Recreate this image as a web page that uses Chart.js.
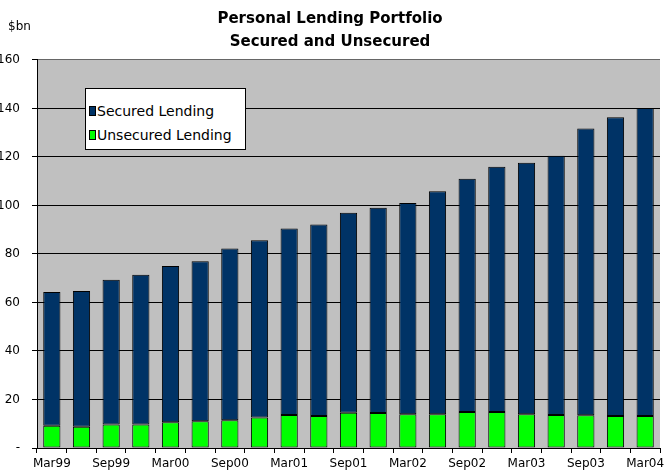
<!DOCTYPE html>
<html>
<head>
<meta charset="utf-8">
<script src="https://cdn.jsdelivr.net/npm/chart.js@4.4.0/dist/chart.umd.min.js"></script>
<style>
  html, body { margin: 0; padding: 0; background: #fff; }
  #wrap { position: relative; width: 669px; height: 473px; }
  #legend {
    position: absolute; left: 85px; top: 88px; width: 161px; height: 62px;
    background: #fff; border: 1px solid #000; box-sizing: border-box;
    font-family: "DejaVu Sans", Verdana, sans-serif; font-size: 14px; color: #000;
  }
  #legend div { position: absolute; left: 3px; white-space: nowrap; }
  #legend span { display: inline-block; width: 5px; height: 8px; border: 1px solid #000; margin-right: 1px; }
</style>
</head>
<body>
<div id="wrap">
  <canvas id="lendingChart" width="669" height="473"></canvas>
  <div id="legend">
    <div style="top:14px"><span style="background:#003366"></span>Secured Lending</div>
    <div style="top:38px"><span style="background:#00FF00"></span>Unsecured Lending</div>
  </div>
</div>
<script>
// Quarterly data, $bn
const quarters = ['Mar99', 'Jun99', 'Sep99', 'Dec99', 'Mar00', 'Jun00', 'Sep00', 'Dec00',
    'Mar01', 'Jun01', 'Sep01', 'Dec01', 'Mar02', 'Jun02', 'Sep02', 'Dec02',
    'Mar03', 'Jun03', 'Sep03', 'Dec03', 'Mar04'];
const unsecured = [9.2, 8.8, 9.7, 9.7, 10.6, 11.0, 11.4, 12.6, 13.6, 13.2, 14.5,
    14.4, 13.9, 13.9, 14.8, 14.8, 13.9, 13.6, 13.5, 13.2, 13.2];
const secured = [55.1, 55.9, 59.7, 61.7, 64.4, 66.0, 70.8, 73.0, 76.9, 78.9, 82.5,
    84.6, 87.1, 92.0, 96.2, 101.2, 103.7, 106.9, 118.2, 123.2, 127.0];
const yTicks = [0, 20, 40, 60, 80, 100, 120, 140, 160];

const FONT = '"DejaVu Sans", Verdana, sans-serif';

// grey plot area + "$bn" label
const plotBg = {
    id: 'plotBg',
    beforeDraw(chart) {
        const a = chart.chartArea, ctx = chart.ctx;
        ctx.save();
        ctx.fillStyle = '#C0C0C0';
        ctx.fillRect(a.left, a.top, a.right - a.left, a.bottom - a.top);
        ctx.fillStyle = '#000';
        ctx.font = '12px ' + FONT;
        ctx.textBaseline = 'middle';
        ctx.fillText('$bn', 8, 27);
        ctx.restore();
    }
};

const ctx = document.getElementById('lendingChart').getContext('2d');
new Chart(ctx, {
    type: 'bar',
    data: {
        labels: quarters,
        datasets: [{
            label: 'Unsecured Lending',
            data: unsecured,
            backgroundColor: '#00FF00',
            borderColor: '#000',
            borderWidth: 1,
            borderSkipped: false
        }, {
            label: 'Secured Lending',
            data: secured,
            backgroundColor: '#003366',
            borderColor: '#000',
            borderWidth: 1,
            borderSkipped: false
        }]
    },
    options: {
        responsive: false,
        animation: false,
        layout: { padding: { left: 0, right: 9, top: 0, bottom: 0 } },
        datasets: { bar: { barPercentage: 0.58, categoryPercentage: 1 } },
        plugins: {
            legend: { display: false },
            tooltip: { enabled: false },
            title: {
                display: true,
                text: ['Personal Lending Portfolio', 'Secured and Unsecured'],
                color: '#000',
                font: { family: FONT, size: 15, weight: 'bold', lineHeight: 1.53 },
                padding: { top: 8, bottom: 6 }
            }
        },
        scales: {
            x: {
                stacked: true,
                offset: true,
                border: { color: '#000', width: 1 },
                grid: { offset: true, drawOnChartArea: false, color: '#000', tickLength: 5 },
                ticks: {
                    color: '#000', font: { family: FONT, size: 12 },
                    autoSkip: false, maxRotation: 0, padding: 4,
                    callback: function (v, i) { return i % 2 === 0 ? quarters[i] : ''; }
                },
                afterFit(scale) { scale.height = 25; }
            },
            y: {
                stacked: true,
                min: 0, max: 160,
                afterBuildTicks(scale) { scale.ticks = yTicks.map(v => ({ value: v })); },
                border: { color: '#000', width: 1 },
                grid: {
                    color: c => c.tick && c.tick.value === 160 ? '#666' : '#000',
                    tickColor: '#000', tickLength: 5
                },
                ticks: {
                    color: '#000', font: { family: FONT, size: 12 }, padding: 12,
                    callback: v => v === 0 ? '-' : v
                },
                afterFit(scale) { scale.width = 37; }
            }
        }
    },
    plugins: [plotBg]
});
</script>
</body>
</html>
